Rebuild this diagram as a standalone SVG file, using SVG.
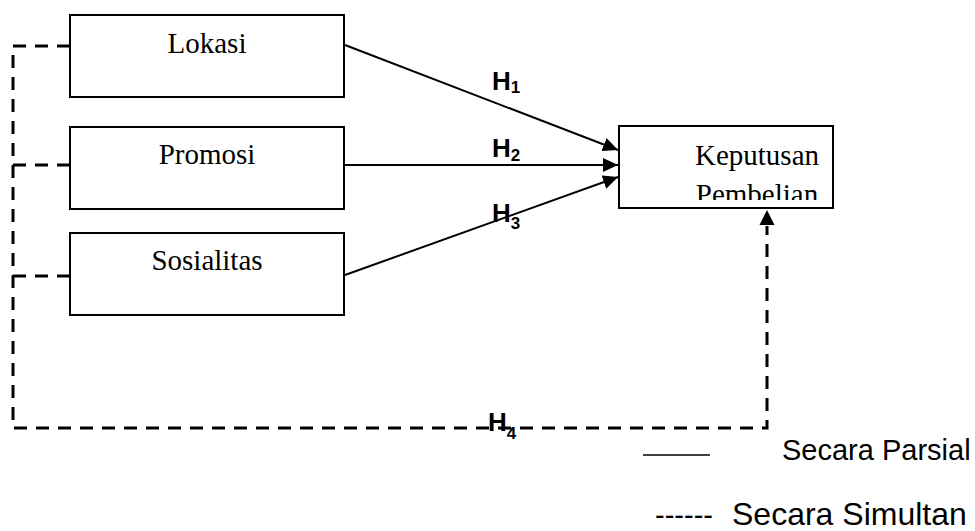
<svg xmlns="http://www.w3.org/2000/svg" width="975" height="531" viewBox="0 0 975 531">
<style>
.box{fill:#fff;stroke:#000;stroke-width:2}
.lbl{font-family:"Liberation Serif","Times New Roman",serif;font-size:29px;fill:#000;text-anchor:middle}
.solid{fill:none;stroke:#000;stroke-width:2}
.dash{fill:none;stroke:#000;stroke-width:3;stroke-dasharray:13 9}
.h{font-family:"Liberation Sans",Arial,sans-serif;font-weight:bold;font-size:26px;fill:#000}
.hs{font-size:17px}
.leg{font-family:"Liberation Sans",Arial,sans-serif;font-size:29px;fill:#000}
</style>
<defs>
<marker id="arr" markerUnits="userSpaceOnUse" markerWidth="16" markerHeight="14" refX="15" refY="7" orient="auto">
<path d="M0,0 L15,7 L0,14 Z" fill="#000"/>
</marker>
<clipPath id="kclip"><rect x="620" y="127" width="212" height="73"/></clipPath>
</defs>
<g id="connectors">
<line class="solid" x1="345" y1="45" x2="618" y2="150" marker-end="url(#arr)"/>
<line class="solid" x1="345" y1="165" x2="618" y2="165" marker-end="url(#arr)"/>
<line class="solid" x1="345" y1="275" x2="618" y2="177" marker-end="url(#arr)"/>
<path class="dash" d="M70,46 H13 V428 H767 V226"/>
<path class="dash" d="M13,165 H70"/>
<path class="dash" d="M13,276 H70"/>
<path d="M767,210 L774.5,225 L759.5,225 Z" fill="#000"/>
<text class="h" x="492" y="90">H<tspan class="hs" dy="3">1</tspan></text>
<text class="h" x="492" y="157">H<tspan class="hs" dy="4">2</tspan></text>
<text class="h" x="492" y="222">H<tspan class="hs" dy="7">3</tspan></text>
<text class="h" x="488" y="431">H<tspan class="hs" dy="8">4</tspan></text>
</g>
<g id="lokasi">
<rect class="box" x="70" y="15" width="274" height="82"/>
<text class="lbl" x="207" y="53">Lokasi</text>
</g>
<g id="promosi">
<rect class="box" x="70" y="127" width="274" height="82"/>
<text class="lbl" x="207" y="164">Promosi</text>
</g>
<g id="sosialitas">
<rect class="box" x="70" y="233" width="274" height="82"/>
<text class="lbl" x="207" y="270">Sosialitas</text>
</g>
<g id="keputusan">
<rect class="box" x="619" y="126" width="214" height="82"/>
<text class="lbl" x="757" y="165">Keputusan</text>
<text class="lbl" x="757" y="204" clip-path="url(#kclip)">Pembelian</text>
</g>
<g id="legend">
<line x1="643" y1="455" x2="710" y2="455" stroke="#000" stroke-width="1.5"/>
<text class="leg" x="782" y="460">Secara Parsial</text>
<text class="leg" y="525"><tspan x="655">------</tspan><tspan x="732" font-size="32">Secara Simultan</tspan></text>
</g>
</svg>
